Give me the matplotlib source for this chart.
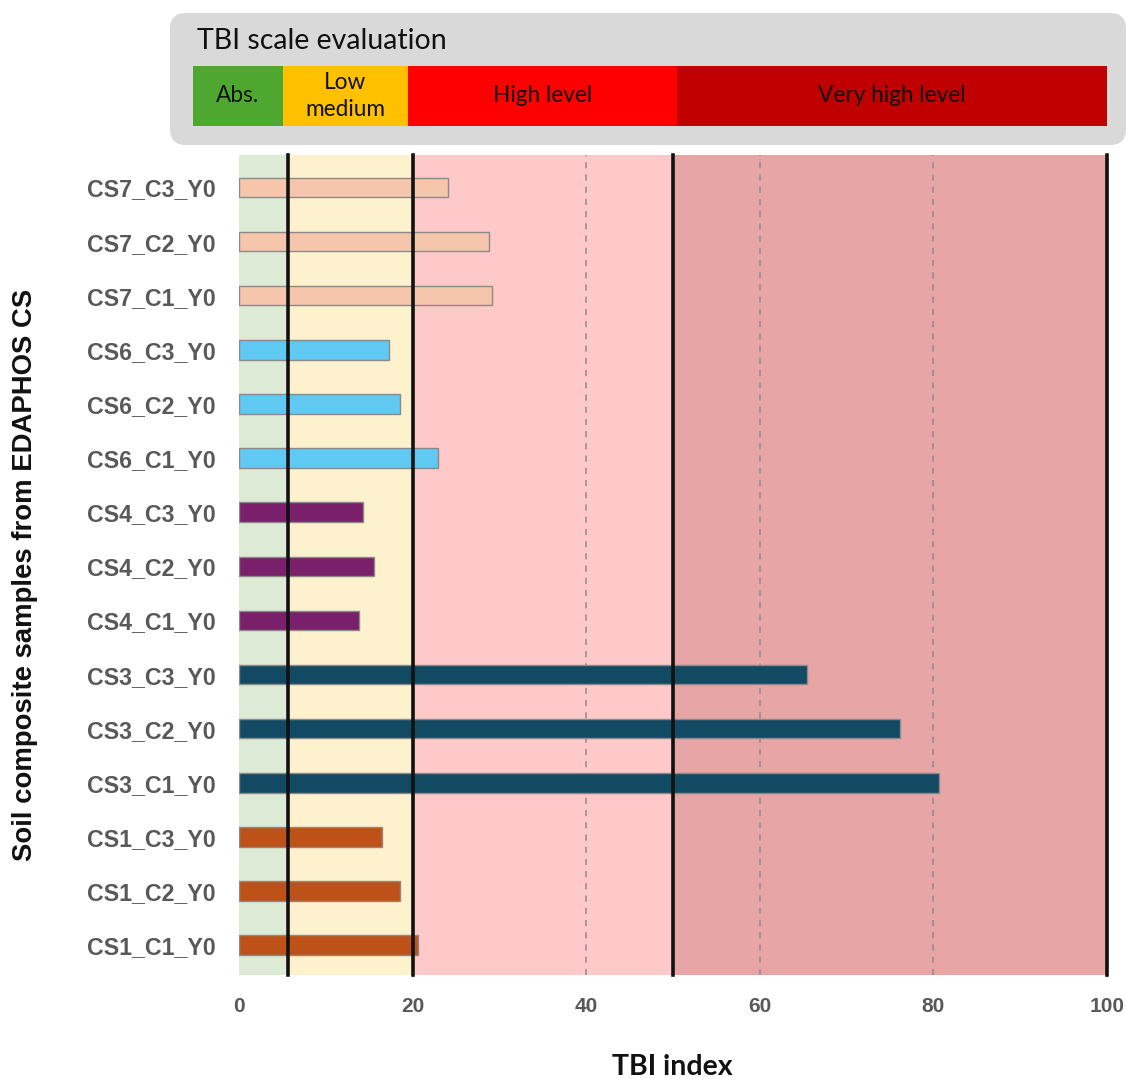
import matplotlib
matplotlib.use("Agg")
import matplotlib.pyplot as plt
from matplotlib.patches import FancyBboxPatch, Rectangle

# ---- data ----
samples = ["CS1_C1_Y0", "CS1_C2_Y0", "CS1_C3_Y0",
           "CS3_C1_Y0", "CS3_C2_Y0", "CS3_C3_Y0",
           "CS4_C1_Y0", "CS4_C2_Y0", "CS4_C3_Y0",
           "CS6_C1_Y0", "CS6_C2_Y0", "CS6_C3_Y0",
           "CS7_C1_Y0", "CS7_C2_Y0", "CS7_C3_Y0"]
tbi_values = [20.6, 18.5, 16.5,
              80.7, 76.1, 65.4,
              13.8, 15.6, 14.3,
              22.9, 18.5, 17.3,
              29.2, 28.8, 24.1]
site_colors = {"CS1": "#BE5118", "CS3": "#134A63", "CS4": "#7A1F6A",
               "CS6": "#5FC9F2", "CS7": "#F5C6AB"}
thresholds = [0, 5.7, 20, 50, 100]
band_colors = ["#DDEBD6", "#FEF1CD", "#FFC9C9", "#E8A5A6"]
x_ticks = [0, 20, 40, 60, 80, 100]
grid_ticks = [40, 60, 80]
scale_labels = ["Abs.", "Low\nmedium", "High level", "Very high level"]
scale_colors = ["#4EA72E", "#FFC000", "#FF0000", "#C00000"]

W, H = 1126, 1079
fig = plt.figure(figsize=(W / 100, H / 100), dpi=100)

# main axes
ax = fig.add_axes([239 / W, 1 - 975 / H, (1107 - 239) / W, (975 - 155) / H])
ax.set_xlim(0, 100)
ax.set_ylim(-0.55, len(samples) - 1 + 0.6)

for i in range(len(band_colors)):
    ax.axvspan(thresholds[i], thresholds[i + 1], color=band_colors[i], lw=0, zorder=0)
for g in grid_ticks:
    ax.axvline(g, color="#8C8C8C", lw=1.1, ls=(0, (4, 4)), zorder=1)

colors = [site_colors[s[:3]] for s in samples]
ax.barh(range(len(samples)), tbi_values, height=0.36, color=colors,
        edgecolor="#8A8A8A", linewidth=1.0, zorder=2)

for t in thresholds[1:]:
    ax.axvline(t, color="#111111", lw=2.6, zorder=3, clip_on=False)

for sp in ax.spines.values():
    sp.set_visible(False)
ax.set_xticks(x_ticks)
ax.set_yticks(range(len(samples)))
ax.set_yticklabels(samples)
ax.tick_params(axis="both", length=0)
ax.tick_params(axis="y", pad=17)
ax.tick_params(axis="x", pad=16)
for lab in ax.get_yticklabels():
    lab.set_fontfamily("Liberation Sans")
    lab.set_fontweight("bold")
    lab.set_fontsize(16.7)
    lab.set_color("#595959")
for lab in ax.get_xticklabels():
    lab.set_fontfamily("Liberation Sans")
    lab.set_fontweight("bold")
    lab.set_fontsize(15)
    lab.set_color("#595959")

fig.text(672 / W, 1 - 1067 / H, "TBI index", ha="center", va="center",
         fontsize=20.5, fontweight="bold", family="Lato", color="#111111")
fig.text(25 / W, 1 - 575 / H, "Soil composite samples from EDAPHOS CS",
         ha="center", va="center", rotation=90, fontsize=19.8,
         fontweight="bold", family="Liberation Sans", color="#111111")

# scale legend overlay (pixel coordinates)
ov = fig.add_axes([0, 0, 1, 1])
ov.set_xlim(0, W)
ov.set_ylim(H, 0)
ov.axis("off")
ov.patch.set_alpha(0)
ov.add_patch(FancyBboxPatch((170, 13), 956, 132, boxstyle="round,pad=0,rounding_size=16",
                            fc="#D9D9D9", ec="none"))
ov.text(197, 41, "TBI scale evaluation", ha="left", va="center",
        fontsize=20.5, family="Lato", color="#111111")
seg_edges = [193, 283, 408, 677, 1107]
for i, (lab, c) in enumerate(zip(scale_labels, scale_colors)):
    x0, x1 = seg_edges[i], seg_edges[i + 1]
    ov.add_patch(Rectangle((x0, 66), x1 - x0, 60, fc=c, ec="none"))
    ov.text((x0 + x1) / 2, 96, lab, ha="center", va="center", fontsize=16.3,
            family="Lato", color="#111111", linespacing=1.35)

fig.savefig("out.png", dpi=100)
